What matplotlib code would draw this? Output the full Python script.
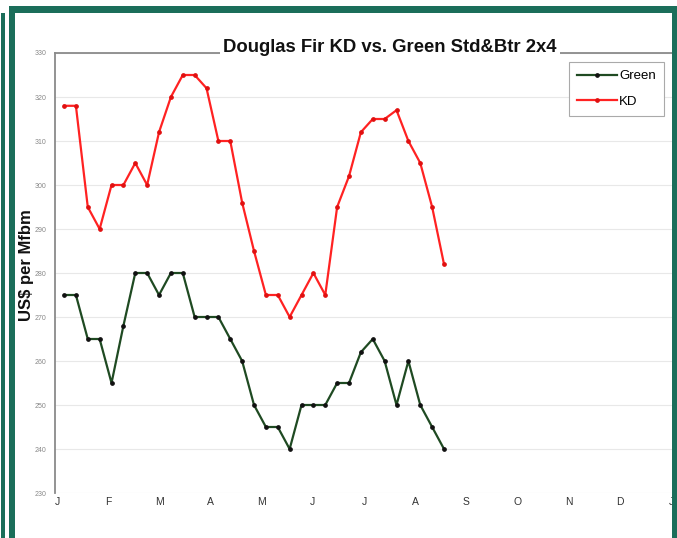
import numpy as np
import matplotlib
matplotlib.use("Agg")
import matplotlib.pyplot as plt
from matplotlib.patches import Rectangle

# weekly prices, US$ per Mfbm
weeks = np.arange(1, 34)
kd = [318, 318, 295, 290, 300, 300, 305, 300, 312, 320, 325, 325, 322, 310, 310, 296, 285,
      275, 275, 270, 275, 280, 275, 295, 302, 312, 315, 315, 317, 310, 305, 295, 282]
green = [275, 275, 265, 265, 255, 268, 280, 280, 275, 280, 280, 270, 270, 270, 265, 260, 250,
         245, 245, 240, 250, 250, 250, 255, 255, 262, 265, 260, 250, 260, 250, 245, 240]
months = ['J', 'F', 'M', 'A', 'M', 'J', 'J', 'A', 'S', 'O', 'N', 'D', 'J']
yticks = np.arange(230, 331, 10)

narrow = ['Liberation Sans Narrow', 'Liberation Sans', 'DejaVu Sans']
arial = ['Liberation Sans', 'DejaVu Sans']
teal = '#1b6e5a'

W, H = 677, 538
fig = plt.figure(figsize=(W / 100, H / 100), dpi=100)
ax = fig.add_axes([55 / W, 1 - 493 / H, (672 - 55) / W, (493 - 53) / H])

ax.plot(weeks, green, color='#1f4a22', lw=1.6, marker='o', ms=2.4,
        mfc='#111111', mec='#111111', label='Green', zorder=3)
ax.plot(weeks, kd, color='#ff2222', lw=1.6, marker='o', ms=2.4,
        mfc='#e01010', mec='#e01010', label='KD', zorder=3)

ax.set_ylim(230, 330)
ax.set_xlim(0.24, 52.2)
ax.set_yticks(yticks)
ax.set_yticklabels([str(v) for v in yticks], fontsize=5, color='#888888', family=narrow)
month_pos = 0.41 + 4.31 * np.arange(len(months))
ax.set_xticks(month_pos)
ax.set_xticklabels(months, fontsize=7.5, color='#333333', family=narrow)
ax.tick_params(axis='both', length=0)
ax.tick_params(axis='y', pad=6)
ax.tick_params(axis='x', pad=3)

ax.yaxis.grid(True, color='#e8e8e8', lw=0.8)
ax.set_axisbelow(True)
for s in ['right', 'bottom']:
    ax.spines[s].set_visible(False)
for s in ['left', 'top']:
    ax.spines[s].set_color('#8a8a8a')
    ax.spines[s].set_linewidth(1.3)

leg = ax.legend(loc='upper right', bbox_to_anchor=(664 / W, 1 - 62 / H),
                bbox_transform=fig.transFigure, borderaxespad=0,
                prop={'family': arial, 'size': 9.5}, handlelength=3.0,
                labelspacing=1.0, borderpad=0.6, handletextpad=0.2,
                fancybox=False, framealpha=1, edgecolor='#aaaaaa')
leg.get_frame().set_linewidth(0.8)

fig.text(390 / W, 1 - 47 / H, 'Douglas Fir KD vs. Green Std&Btr 2x4',
         ha='center', va='center', fontsize=13.3, fontweight='bold', family=arial,
         color='#111111', bbox=dict(facecolor='white', edgecolor='none', pad=2))
fig.text(26 / W, 1 - 265 / H, 'US$ per Mfbm', rotation=90, ha='center', va='center',
         fontsize=12, fontweight='bold', family=arial, color='#111111')

# teal frame around the screenshot
def px_rect(x0, y0, x1, y1):
    fig.add_artist(Rectangle((x0 / W, 1 - y1 / H), (x1 - x0) / W, (y1 - y0) / H,
                             transform=fig.transFigure, facecolor=teal,
                             edgecolor='none', zorder=10))

px_rect(9, 6, W, 13)
px_rect(9, 6, 15, H)
px_rect(1, 13, 5, H)
px_rect(672, 6, W, H)

fig.savefig('out.png', dpi=100)
